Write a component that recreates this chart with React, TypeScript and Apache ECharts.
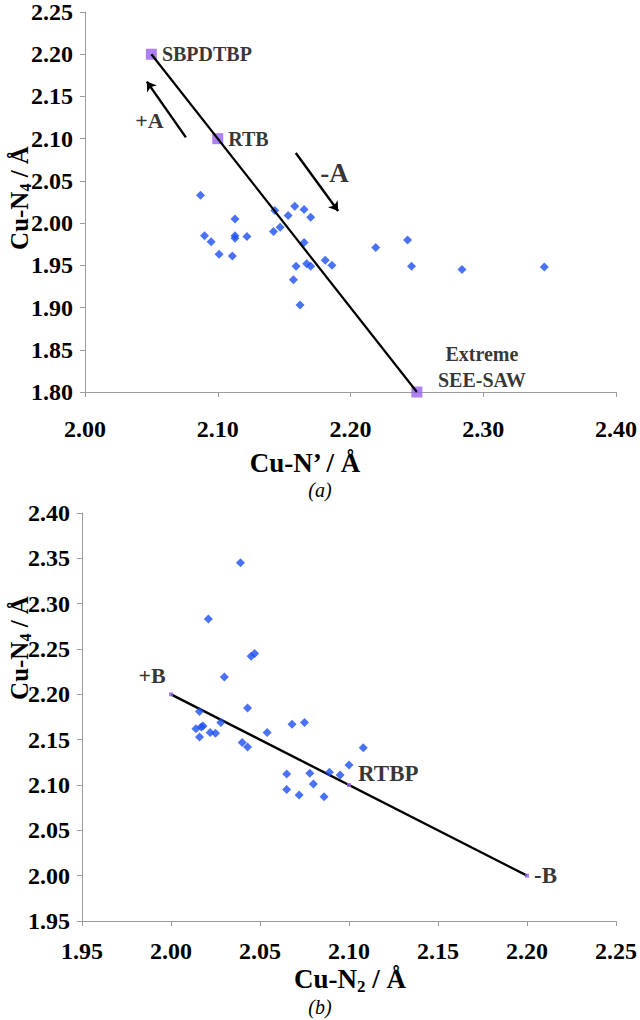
import React, { useEffect, useRef } from "react";
import * as echarts from "echarts";

// ---- panel (a): Cu-N4 against Cu-N' ----
const topBlue: [number, number][] = [
  [2.087, 2.033], [2.113, 2.005], [2.143, 2.015], [2.158, 2.02], [2.165, 2.016],
  [2.153, 2.009], [2.17, 2.007], [2.09, 1.985], [2.095, 1.978], [2.101, 1.963],
  [2.111, 1.961], [2.113, 1.985], [2.113, 1.982], [2.122, 1.984], [2.142, 1.99],
  [2.147, 1.995], [2.165, 1.977], [2.159, 1.949], [2.157, 1.933], [2.167, 1.952],
  [2.17, 1.949], [2.181, 1.956], [2.186, 1.95], [2.162, 1.903], [2.219, 1.971],
  [2.243, 1.98], [2.246, 1.949], [2.284, 1.945], [2.346, 1.948],
];
const topRefNames = ["SBPDTBP", "RTB", "Extreme\nSEE-SAW"];
const topRefX = [2.05, 2.1, 2.25];
const topRefY = [2.2, 2.1, 1.8];
const topArrows: [number, number][][] = [
  [[2.076, 2.1016], [2.0466, 2.1676]],
  [[2.1588, 2.0831], [2.1907, 2.0144]],
];
const topArrowNames = ["+A", "-A"];
const topArrowLabelAt: [number, number][] = [[2.0486, 2.1216], [2.188, 2.0598]];
const topXRange = [2.0, 2.4, 0.1];
const topYRange = [1.8, 2.25, 0.05];

// ---- panel (b): Cu-N4 against Cu-N2 ----
const bottomBlue: [number, number][] = [
  [2.016, 2.181], [2.014, 2.162], [2.017, 2.164], [2.018, 2.165], [2.016, 2.153],
  [2.022, 2.158], [2.025, 2.157], [2.028, 2.169], [2.043, 2.185], [2.04, 2.147],
  [2.043, 2.142], [2.054, 2.158], [2.068, 2.167], [2.075, 2.169], [2.065, 2.112],
  [2.065, 2.095], [2.072, 2.089], [2.078, 2.113], [2.08, 2.101], [2.086, 2.087],
  [2.089, 2.114], [2.095, 2.111], [2.1, 2.122], [2.108, 2.141], [2.039, 2.345],
  [2.021, 2.283], [2.045, 2.242], [2.047, 2.245], [2.03, 2.219],
];
const bottomRefNames = ["+B", "RTBP", "-B"];
const bottomRefX = [2.0, 2.1, 2.2];
const bottomRefY = [2.2, 2.1, 2.0];
const bottomXRange = [1.95, 2.25, 0.05];
const bottomYRange = [1.95, 2.4, 0.05];

const FONT = "Liberation Serif";
const BLUE = "#1d4ff2";
const PURPLE = "#9a62f0";
const AXIS_GREY = "#9c9c9c";
const INK = "#000";

const valueAxis = (gridIndex: number, range: number[], margin: number) => ({
  type: "value",
  gridIndex,
  min: range[0],
  max: range[1],
  interval: range[2],
  axisLine: { show: true, onZero: false, lineStyle: { color: AXIS_GREY, width: 1 } },
  axisTick: { show: true, length: 5, lineStyle: { color: AXIS_GREY } },
  splitLine: { show: false },
  axisLabel: {
    formatter: (v: number) => v.toFixed(2),
    fontFamily: FONT,
    fontWeight: "bold",
    fontSize: 24,
    color: INK,
    margin,
  },
});

// Label placement for the reference structures
const topRefLabel = [
  { position: "right", distance: 5 },
  { position: "right", distance: 5 },
  { position: "inside", offset: [65, -25], lineHeight: 26, align: "center" },
];
const bottomRefLabel = [
  { position: "inside", offset: [-19, -19], fontSize: 22 },
  { position: "right", distance: 7, offset: [0, -12], fontSize: 23 },
  { position: "right", distance: 5, fontSize: 23 },
];

const richTitle = (main: string, sub: string, rest: string, size: number) => ({
  text: `{a|${main}}{s|${sub}}{a|${rest}}`,
  rich: {
    a: { fontFamily: FONT, fontWeight: "bold", fontSize: size, lineHeight: size + 4, fill: INK },
    s: { fontFamily: FONT, fontWeight: "bold", fontSize: Math.round(size * 0.62), fill: INK, verticalAlign: "bottom" },
  },
  align: "center",
  verticalAlign: "middle",
});

export default function App() {
  const ref = useRef<HTMLDivElement>(null);

  useEffect(() => {
    if (!ref.current) return;
    const chart = echarts.init(ref.current, null, { renderer: "svg" });

    const labelStyle = { fontFamily: FONT, fontWeight: "bold", fontSize: 20, color: INK };

    chart.setOption({
      animation: false,
      backgroundColor: "#fff",
      grid: [
        { left: 85, top: 10, width: 535, height: 382 },
        { left: 82, top: 513, width: 539, height: 408 },
      ],
      xAxis: [valueAxis(0, topXRange, 25), valueAxis(1, bottomXRange, 18)],
      yAxis: [valueAxis(0, topYRange, 12), valueAxis(1, bottomYRange, 12)],
      graphic: [
        {
          type: "text", x: 305, y: 463,
          style: { text: "Cu-N\u2019 / \u00c5", fontFamily: FONT, fontWeight: "bold", fontSize: 27, fill: INK, align: "center", verticalAlign: "middle" },
        },
        {
          type: "text", x: 320, y: 490,
          style: { text: "(a)", fontFamily: FONT, fontStyle: "italic", fontSize: 20, fill: INK, align: "center", verticalAlign: "middle" },
        },
        { type: "text", x: 19, y: 198, rotation: Math.PI / 2, style: richTitle("Cu-N", "4", " / \u00c5", 25) },
        {
          type: "text", x: 350, y: 979,
          style: richTitle("Cu-N", "2", " / \u00c5", 27),
        },
        {
          type: "text", x: 320, y: 1007,
          style: { text: "(b)", fontFamily: FONT, fontStyle: "italic", fontSize: 20, fill: INK, align: "center", verticalAlign: "middle" },
        },
        { type: "text", x: 19, y: 648, rotation: Math.PI / 2, style: richTitle("Cu-N", "4", " / \u00c5", 25) },
      ],
      series: [
        // panel (a)
        {
          type: "scatter", xAxisIndex: 0, yAxisIndex: 0, symbol: "diamond", symbolSize: 9,
          itemStyle: { color: BLUE }, data: topBlue, z: 3,
        },
        {
          type: "scatter", xAxisIndex: 0, yAxisIndex: 0, symbol: "rect", symbolSize: 11,
          itemStyle: { color: PURPLE }, z: 3,
          data: topRefNames.map((n, i) => ({
            name: n, value: [topRefX[i], topRefY[i]],
            label: { show: true, formatter: "{b}", ...labelStyle, ...topRefLabel[i] },
          })),
        },
        {
          type: "line", xAxisIndex: 0, yAxisIndex: 0, symbol: "none", z: 4,
          lineStyle: { color: "#000", width: 2.2 },
          data: [[topRefX[0], topRefY[0]], [topRefX[2], topRefY[2]]],
        },
        {
          type: "lines", coordinateSystem: "cartesian2d", xAxisIndex: 0, yAxisIndex: 0,
          symbol: ["none", "arrow"], symbolSize: 9, z: 4,
          lineStyle: { color: "#000", width: 2.4, opacity: 1 },
          data: topArrows.map((c) => ({ coords: c })),
        },
        {
          type: "scatter", xAxisIndex: 0, yAxisIndex: 0, symbolSize: 0, z: 5,
          data: topArrowNames.map((n, i) => ({
            name: n, value: topArrowLabelAt[i],
            label: {
              show: true, position: "inside", formatter: "{b}",
              ...labelStyle, fontSize: i === 0 ? 22 : 27,
            },
          })),
        },
        // panel (b)
        {
          type: "scatter", xAxisIndex: 1, yAxisIndex: 1, symbol: "diamond", symbolSize: 9,
          itemStyle: { color: BLUE }, data: bottomBlue, z: 3,
        },
        {
          type: "line", xAxisIndex: 1, yAxisIndex: 1, symbol: "none", z: 2,
          lineStyle: { color: "#000", width: 2.4 },
          data: [[bottomRefX[0], bottomRefY[0]], [bottomRefX[2], bottomRefY[2]]],
        },
        {
          type: "scatter", xAxisIndex: 1, yAxisIndex: 1, symbol: "rect", symbolSize: 4,
          itemStyle: { color: PURPLE }, z: 4,
          data: bottomRefNames.map((n, i) => ({
            name: n, value: [bottomRefX[i], bottomRefY[i]],
            label: { show: true, formatter: "{b}", ...labelStyle, ...bottomRefLabel[i] },
          })),
        },
      ],
    });

    return () => chart.dispose();
  }, []);

  return (
    <div
      ref={ref}
      style={{ position: "absolute", left: 0, top: 0, width: 640, height: 1020, background: "#fff" }}
    />
  );
}
